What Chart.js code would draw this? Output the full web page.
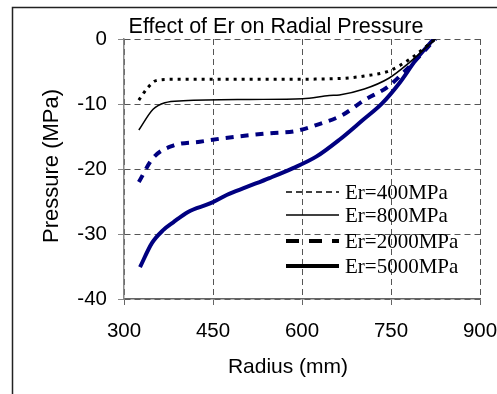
<!DOCTYPE html>
<html>
<head>
<meta charset="utf-8">
<script src="https://cdn.jsdelivr.net/npm/chart.js@4.4.1/dist/chart.umd.min.js"></script>
<style>
  html, body { margin: 0; padding: 0; background: #fff; }
  #wrap { width: 497px; height: 394px; position: relative; }
</style>
</head>
<body>
<div id="wrap"><canvas id="chart"></canvas></div>
<script>
// Data
const chartTitle = "Effect of Er on Radial Pressure";
const xTitle = "Radius (mm)";
const yTitle = "Pressure (MPa)";
const xTicks = [300, 450, 600, 750, 900];
const yTicks = [-40, -30, -20, -10, 0];

const seriesNames = ["Er=400MPa", "Er=800MPa", "Er=2000MPa", "Er=5000MPa"];

const r400 = [325, 340, 354, 380, 450, 550, 658, 705, 747, 780, 825];
const p400 = [-9.4, -7.5, -6.4, -6.2, -6.2, -6.2, -6.1, -5.7, -4.9, -3.2, 0];

const r800 = [325, 349, 369, 400, 512, 601, 646, 663, 705, 747, 780, 825];
const p800 = [-14, -10.8, -9.8, -9.5, -9.3, -9.2, -8.7, -8.6, -7.7, -6.0, -3.7, 0];

const r2000 = [325, 349, 383, 428, 465, 512, 545, 587, 629, 668, 705, 744, 775, 825];
const p2000 = [-22, -18.3, -16.4, -15.8, -15.3, -14.8, -14.5, -14.2, -13.1, -11.7, -9.4, -7.4, -4.8, 0];

const r5000 = [327, 347, 366, 383, 408, 445, 473, 506, 545, 584, 624, 663, 702, 735, 764, 792, 822];
const p5000 = [-35.1, -31.4, -29.4, -28.2, -26.6, -25.3, -24.0, -22.8, -21.4, -19.9, -18.1, -15.5, -12.5, -9.9, -6.8, -3.2, 0];

const navy = "#000080";

function pts(xs, ys) {
  return xs.map((x, i) => ({ x: x, y: ys[i] }));
}

// Frame, titles and legend
const decor = {
  id: "decor",
  beforeDraw(chart) {
    const c = chart.ctx;
    c.save();
    c.fillStyle = "#fff";
    c.fillRect(0, 0, chart.width, chart.height);
    c.strokeStyle = "#222";
    c.lineWidth = 1.5;
    c.strokeRect(12.5, 7.5, 700, 700);
    c.restore();
  },
  afterDraw(chart) {
    const c = chart.ctx;
    const a = chart.chartArea;
    c.save();
    c.fillStyle = "#000";
    c.textAlign = "center";
    c.textBaseline = "alphabetic";
    c.font = "21.5px 'Liberation Sans', Arial, sans-serif";
    c.fillText(chartTitle, 276, 33);
    c.font = "21px 'Liberation Sans', Arial, sans-serif";
    c.fillText(xTitle, 288, 373);
    c.font = "22px 'Liberation Sans', Arial, sans-serif";
    c.translate(58, (a.top + a.bottom) / 2 - 3);
    c.rotate(-Math.PI / 2);
    c.fillText(yTitle, 0, 0);
    c.restore();

    // Legend
    c.save();
    c.font = "21px 'Liberation Serif', 'Times New Roman', serif";
    c.textBaseline = "middle";
    c.textAlign = "left";
    const rows = [192, 215, 241, 266];
    chart.data.datasets.forEach((ds, i) => {
      const y = rows[i];
      c.strokeStyle = "#000";
      c.lineWidth = ds.legendWidth || ds.borderWidth;
      c.setLineDash(ds.legendDash || []);
      c.beginPath();
      c.moveTo(286, y);
      c.lineTo(339, y);
      c.stroke();
      c.setLineDash([]);
      c.fillStyle = "#000";
      c.fillText(ds.label, 345, y + 1);
    });
    c.restore();
  }
};

const ctx = document.getElementById("chart").getContext("2d");
new Chart(ctx, {
  type: "line",
  data: {
    datasets: [
      { label: seriesNames[0], data: pts(r400, p400), borderColor: "#000", borderWidth: 3, borderDash: [3, 5], legendDash: [6, 4], legendWidth: 1.5 },
      { label: seriesNames[1], data: pts(r800, p800), borderColor: "#000", borderWidth: 1.5 },
      { label: seriesNames[2], data: pts(r2000, p2000), borderColor: navy, borderWidth: 4, borderDash: [8, 7], legendDash: [13, 10] },
      { label: seriesNames[3], data: pts(r5000, p5000), borderColor: navy, borderWidth: 4 }
    ]
  },
  options: {
    responsive: true,
    maintainAspectRatio: false,
    animation: false,
    layout: { padding: { left: 0, top: 39, right: 0, bottom: 0 } },
    elements: {
      point: { radius: 0 },
      line: { tension: 0.35, cubicInterpolationMode: "monotone", fill: false }
    },
    plugins: {
      legend: { display: false },
      tooltip: { enabled: false }
    },
    scales: {
      x: {
        type: "linear",
        min: 300, max: 900,
        afterBuildTicks: s => { s.ticks = xTicks.map(v => ({ value: v })); },
        afterFit: s => { s.height = 95; s.paddingRight = 17; s.paddingLeft = 0; },
        ticks: { color: "#000", font: { family: "'Liberation Sans', Arial, sans-serif", size: 20.5 }, padding: 14, maxRotation: 0 },
        grid: { color: "#555", tickLength: 6, tickColor: "#666", tickBorderDash: [] },
        border: { display: true, color: "#666", width: 1.5, dash: [6, 4] }
      },
      y: {
        type: "linear",
        min: -40, max: 0,
        afterBuildTicks: s => { s.ticks = yTicks.map(v => ({ value: v })); },
        afterFit: s => { s.width = 124; },
        ticks: { color: "#000", font: { family: "'Liberation Sans', Arial, sans-serif", size: 20.5 }, padding: 11 },
        grid: { color: "#555", tickLength: 6, tickColor: "#888", tickBorderDash: [] },
        border: { display: true, color: "#888", width: 1.5, dash: [6, 4] }
      }
    }
  },
  plugins: [decor]
});
</script>
</body>
</html>
